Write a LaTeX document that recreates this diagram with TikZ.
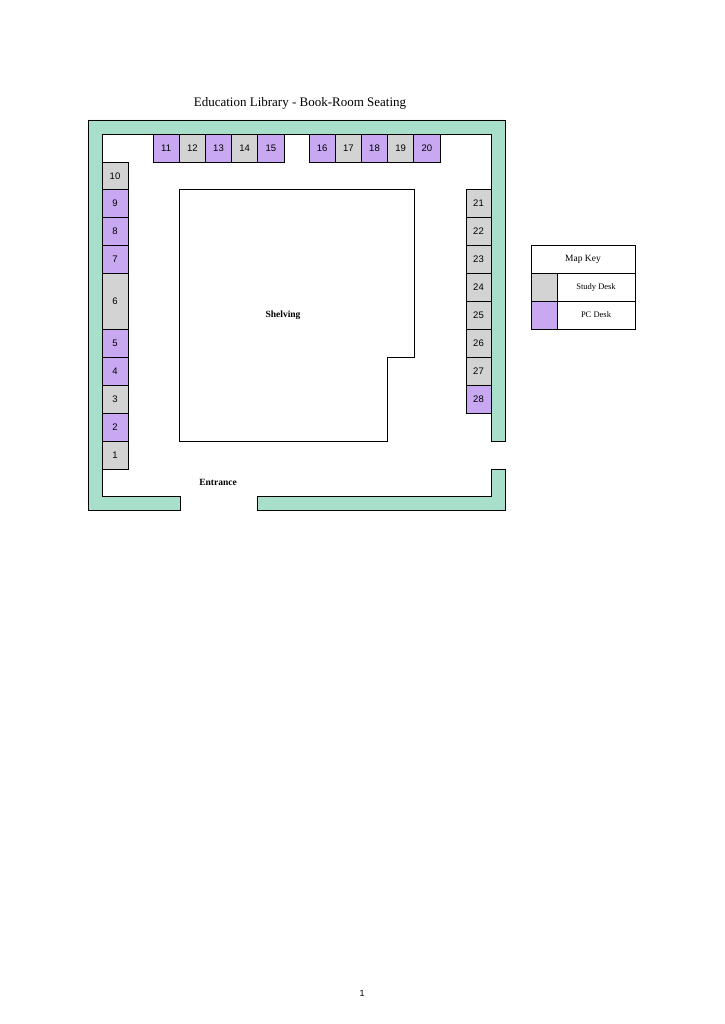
\documentclass[tikz,border=0pt]{standalone}
\usepackage{fontspec}
\setmainfont{Liberation Serif}
\newfontfamily\numfont{Liberation Sans}
\definecolor{wallc}{HTML}{A8DFCB}
\definecolor{studyc}{HTML}{D3D3D3}
\definecolor{pcc}{HTML}{C8A8F0}
\begin{document}
\begin{tikzpicture}[x=1pt,y=-1pt,
  wall/.style={fill=wallc,draw=black,line width=0.9pt},
  study/.style={fill=studyc,draw=black,line width=0.7pt},
  pc/.style={fill=pcc,draw=black,line width=0.7pt},
  num/.style={font=\numfont\fontsize{9.5}{10}\selectfont},
  lbl/.style={font=\bfseries\fontsize{9.5}{10}\selectfont}]
\useasboundingbox[fill=white] (0,0) rectangle (724,1024);
\node[font=\fontsize{13}{14}\selectfont] (title) at (300,103) {Education Library - Book-Room Seating};
% walls
\draw[wall] (180,510)--(88,510)--(88,120)--(505,120)--(505,441)--(491,441)--(491,134)--(102,134)--(102,496)--(180,496)--cycle;
\draw[wall] (257,510)--(505,510)--(505,469)--(491,469)--(491,496)--(257,496)--cycle;
% shelving
\draw[line width=0.8pt] (179,189)--(414,189)--(414,357)--(387,357)--(387,441)--(179,441)--cycle;
\node[lbl] (shelf) at (283,315) {Shelving};
\node[lbl] (entr) at (218,482) {Entrance};
% top desks
\foreach \n/\s [count=\i from 0] in {11/pc,12/study,13/pc,14/study,15/pc}{
  \draw[\s] (153+26.2*\i,134) rectangle ++(26.2,28);
  \node[num] (d\n) at (166.1+26.2*\i,148) {\n};}
\foreach \n/\s [count=\i from 0] in {16/pc,17/study,18/pc,19/study,20/pc}{
  \draw[\s] (309+26.2*\i,134) rectangle ++(26.2,28);
  \node[num] (d\n) at (322.1+26.2*\i,148) {\n};}
% left desks
\foreach \n/\s/\a/\b in {10/study/162/189.5,9/pc/189.5/217.3,8/pc/217.3/245.2,7/pc/245.2/273,6/study/273/329,5/pc/329/357,4/pc/357/385,3/study/385/413,2/pc/413/441,1/study/441/469}{
  \draw[\s] (102,\a) rectangle (128,\b);
  \node[num] (d\n) at (115,{(\a+\b)/2}) {\n};}
% right desks
\foreach \n/\s [count=\i from 0] in {21/study,22/study,23/study,24/study,25/study,26/study,27/study,28/pc}{
  \draw[\s] (466,189+28*\i) rectangle ++(25,28);
  \node[num] (d\n) at (478.5,203+28*\i) {\n};}
% key
\draw[line width=0.8pt,fill=white] (531,245) rectangle (635,329);
\draw[line width=0.8pt] (531,273)--(635,273) (531,301)--(635,301);
\draw[study] (531,273) rectangle (557,301);
\draw[pc] (531,301) rectangle (557,329);
\node[font=\fontsize{9.5}{10}\selectfont] (kh) at (583,259) {Map Key};
\node[font=\fontsize{8.5}{10}\selectfont] (ks) at (596,287) {Study Desk};
\node[font=\fontsize{8.5}{10}\selectfont] (kp) at (596,315) {PC Desk};
\node[font=\numfont\fontsize{9}{10}\selectfont] (pg) at (362,993) {1};
\end{tikzpicture}
\end{document}
